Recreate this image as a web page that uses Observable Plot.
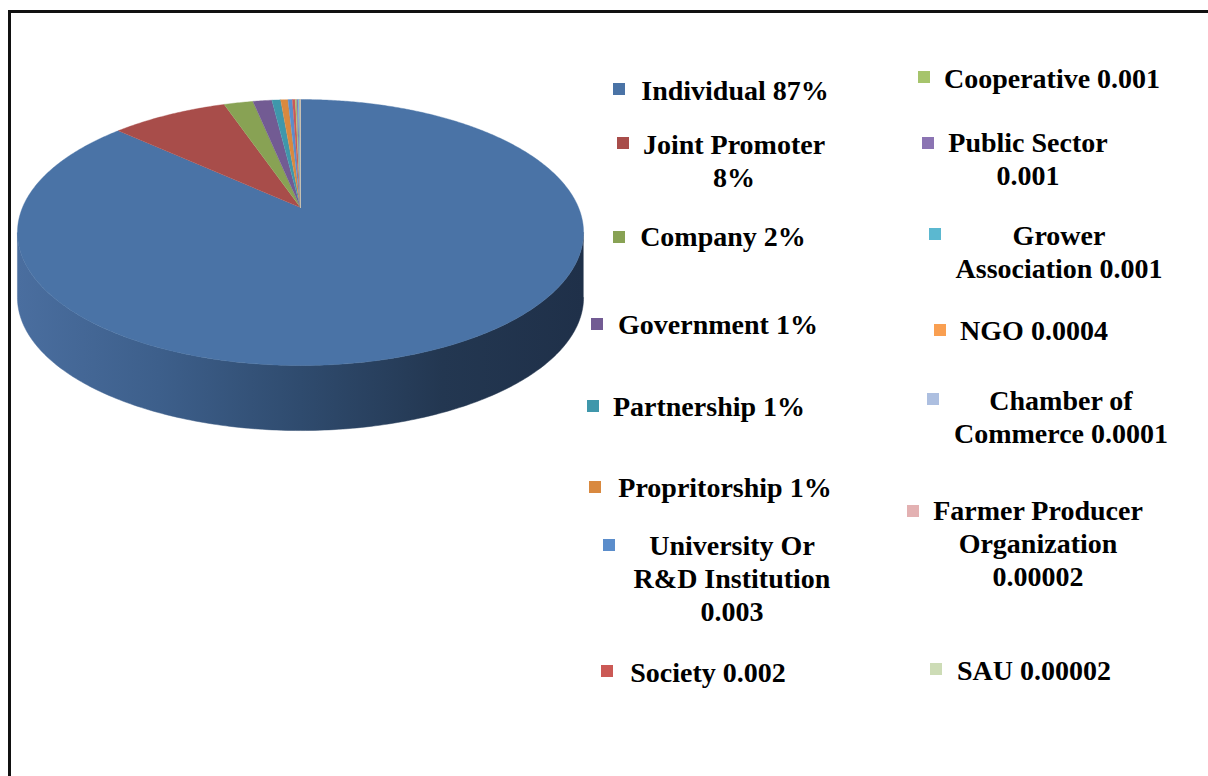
<!DOCTYPE html>
<html>
<head>
<meta charset="utf-8">
<script src="https://cdn.jsdelivr.net/npm/d3@7"></script>
<script src="https://cdn.jsdelivr.net/npm/@observablehq/plot@0.6"></script>
<style>
  body { margin: 0; background: #fff; }
  #wrap { position: relative; width: 1208px; height: 776px; overflow: hidden; background: #fff; }
  #frame { position: absolute; left: 8px; top: 10px; width: 1400px; height: 1000px;
           border-left: 3px solid #111; border-top: 3px solid #111; }
  #chart { position: absolute; left: 0; top: 0; }
  .lg { position: absolute; font-family: "Liberation Serif", "Times New Roman", serif; font-weight: bold;
        font-size: 28px; line-height: 33px; text-align: center; white-space: nowrap; color: #000;
        transform: translateX(-50%); }
  .sw { position: absolute; width: 12px; height: 12px; }
</style>
</head>
<body>
<div id="wrap"><div id="frame"></div><div id="chart"></div></div>
<script>
// ---- data ----
const categories = [
  "Individual", "Joint Promoter", "Company", "Government", "Partnership", "Propritorship",
  "University Or R&D Institution", "Society", "Cooperative", "Public Sector", "Grower Association",
  "NGO", "Chamber of Commerce", "Farmer Producer Organization", "SAU"
];
const shares = [0.87, 0.08, 0.02, 0.013, 0.006, 0.005, 0.003, 0.002, 0.001, 0.001, 0.001, 0.0004, 0.0001, 0.00002, 0.00002];
const legendLabels = [
  "Individual 87%", "Joint Promoter\n8%", "Company 2%", "Government 1%", "Partnership 1%",
  "Propritorship 1%", "University Or\nR&D Institution\n0.003", "Society 0.002",
  "Cooperative 0.001", "Public Sector\n0.001", "Grower\nAssociation 0.001", "NGO 0.0004",
  "Chamber of\nCommerce 0.0001", "Farmer Producer\nOrganization\n0.00002", "SAU 0.00002"
];

// ---- styles / layout ----
const colors = [
  "#4a73a6", "#a84d4a", "#88a254", "#725b93", "#3f97ab", "#d9893f",
  "#5b8dcb", "#cb5955", "#a6c46c", "#8b74b3", "#5bb8d0",
  "#f99f51", "#adbfe0", "#e3b1b2", "#cddcb6"
];
// [swatchX, swatchY, textCenterX, firstBaselineY]
const legendLayout = [
  [613, 83, 735, 100], [617, 137, 734, 154], [613, 231, 723, 246], [591, 318, 718, 334],
  [587, 400, 709, 416], [589, 481, 725, 497], [603, 539, 732, 555], [601, 665, 708, 682],
  [918, 71, 1052, 88], [922, 137, 1028, 152], [929, 228, 1059, 245], [934, 324, 1034, 340],
  [927, 393, 1061, 410], [907, 505, 1038, 520], [930, 663, 1034, 680]
];
const cx = 300, cy = 207, R = 278;      // pixel placement of the pie (unit radius)
const tilt = 0.4615, persp = 0.188, depth = 0.234;

// perspective projection of a point on the unit disc, angle a clockwise from 12 o'clock
function proj(a, drop = 0) {
  const X = Math.sin(a), Z = -Math.cos(a);
  const p = 1 / (1 - persp * Z);
  return {x: X * p, y: Z * tilt * p + drop};
}

// slice polygons
const total = d3.sum(shares);
const sliceRows = [];
let acc = 0;
categories.forEach((name, i) => {
  const a0 = acc / total * 2 * Math.PI;
  acc += shares[i];
  const a1 = acc / total * 2 * Math.PI;
  sliceRows.push({name, x: 0, y: 0});
  const n = Math.max(1, Math.ceil((a1 - a0) / (Math.PI / 360)));
  for (let k = 0; k <= n; k++) {
    const q = proj(a0 + (a1 - a0) * k / n);
    sliceRows.push({name, x: q.x, y: q.y});
  }
});

// visible side wall (front arc between silhouette points)
const aR = Math.acos(-persp), aL = 2 * Math.PI - Math.acos(-persp);
const sideRows = [];
for (let k = 0; k <= 200; k++) { const q = proj(aR + (aL - aR) * k / 200); sideRows.push(q); }
for (let k = 200; k >= 0; k--) { const q = proj(aR + (aL - aR) * k / 200, depth); sideRows.push(q); }

const plot = Plot.plot({
  width: 1208, height: 776, margin: 0,
  x: {domain: [-1, 1], range: [cx - R, cx + R], axis: null},
  y: {domain: [-1, 1], range: [cy - R, cy + R], axis: null},
  color: {domain: categories, range: colors},
  style: {background: "transparent", overflow: "visible"},
  marks: [
    Plot.line(sideRows, {x: "x", y: "y", fill: "url(#sideGrad)", stroke: "url(#sideGrad)", strokeWidth: 0.5}),
    Plot.line(sliceRows, {x: "x", y: "y", z: "name", fill: "name", stroke: "name", strokeWidth: 0.4})
  ]
});
plot.insertAdjacentHTML("afterbegin",
  `<defs><linearGradient id="sideGrad" x1="0" x2="1" y1="0" y2="0">
     <stop offset="0" stop-color="#4a6e9f"/>
     <stop offset="0.25" stop-color="#3d5f8b"/>
     <stop offset="0.5" stop-color="#2f4b6e"/>
     <stop offset="0.75" stop-color="#233751"/>
     <stop offset="1" stop-color="#1f3049"/>
   </linearGradient></defs>`);
document.getElementById("chart").appendChild(plot);

// legend
const wrap = document.getElementById("wrap");
categories.forEach((name, i) => {
  const [sx, sy, tx, ty] = legendLayout[i];
  const sw = document.createElement("div");
  sw.className = "sw";
  sw.style.left = sx + "px"; sw.style.top = sy + "px"; sw.style.background = colors[i];
  wrap.appendChild(sw);
  const t = document.createElement("div");
  t.className = "lg";
  t.style.left = tx + "px"; t.style.top = (ty - 26) + "px";
  t.innerHTML = legendLabels[i].split("\n").map(s => s.replace(/&/g, "&amp;")).join("<br>");
  wrap.appendChild(t);
});
</script>
</body>
</html>
